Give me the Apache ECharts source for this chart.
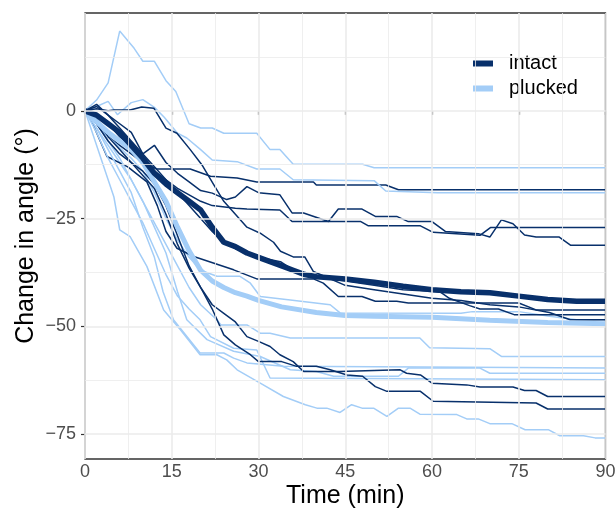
<!DOCTYPE html>
<html style="width:100%;height:100%">
<head>
    <meta charset="UTF-8">
    <title>Change in angle</title>
    <script type="text/javascript" src="https://cdn.jsdelivr.net/npm/echarts@6/dist/echarts.min.js"></script>
</head>
<body style="width:100%;height:100%;margin:0;overflow:hidden;background:#fff">
    <div id="chart" style="width:615px;height:513px"></div>

    <script type="text/javascript">
        var myChart = echarts.init(document.getElementById('chart'));

        // grid / tick values
        var xTicks = [0, 15, 30, 45, 60, 75, 90];
        var xMinor = [7.5, 22.5, 37.5, 52.5, 67.5, 82.5];
        var yTicks = [-75, -50, -25, 0];
        var yMinor = [-62.5, -37.5, -12.5, 12.5];

        // group means [time (min), change in angle]
        var intactMean = [[0,0],[2,-1],[4,-3],[6,-5],[8,-8],[10,-11],[12,-14.5],[14,-17],[16,-19],[18,-21],[20,-23],[22,-27],[24,-30.5],[26,-31.5],[28,-33],[30,-34],[32,-35],[34,-36],[36,-37],[38,-38],[40,-38.5],[45,-39],[50,-39.8],[55,-40.7],[60,-41.5],[65,-42],[70,-42.2],[75,-43],[80,-43.8],[85,-44.2],[90,-44.2]];
        var pluckedMean = [[0,0],[2,-2.5],[4,-5],[6,-7],[8,-9],[10,-12],[12,-16.5],[14,-21],[16,-27],[18,-32.5],[20,-37],[22,-39.5],[24,-41],[26,-42.2],[28,-43],[30,-44],[34,-45.5],[40,-46.8],[45,-47.5],[50,-47.7],[60,-47.9],[70,-48.6],[80,-49.1],[90,-49.4]];

        // individual intact animals
        var intact1 = [[0,0],[2,-3],[4,-6],[6,-8],[8,-10],[10,-12],[12.4,-13.5],[18.2,-13.5],[21.7,-15.2],[26.3,-15.6],[29.7,-16.5],[39.5,-16.5],[40,-17.2],[52,-17.2],[54.2,-18.3],[90,-18.3]];
        var intact2 = [[0,0],[2,-1],[4,-3],[6,-6],[8,-8.5],[10,-11],[12,-14],[14,-16],[16,-18],[18,-19.5],[20,-21],[22,-22],[26,-22.6],[28,-22.8],[33.7,-23],[35.8,-25.7],[47.7,-25.7],[49,-26.7],[58,-26.7],[60.2,-28.2],[68.3,-28.9],[70.1,-27.1],[90,-27.1]];
        var intact3 = [[0,0],[2,1],[4,-1],[6,-3],[8,-5],[10,-10],[12,-8],[14,-12],[16,-14.5],[18,-16.5],[20,-18.5],[22,-19.1],[24.5,-20.6],[26,-20],[28,-17.6],[30,-19],[33.7,-19.5],[35.8,-23.7],[37.8,-23.7],[42.1,-25.7],[43.8,-22.8],[47.9,-22.8],[50.2,-24.5],[53.9,-24.5],[55.9,-25.7],[60,-25.7],[62.3,-28],[68,-28.5],[70,-29.3],[72,-25.3],[74,-26.2],[76,-28.8],[78,-29.3],[82,-29.3],[84,-31.2],[90,-31.2]];
        var intact4 = [[0,0],[1,-2],[3.8,-10.6],[7.4,-13],[10.7,-16.5],[12.5,-22],[14,-28],[15.9,-31.9],[18.8,-33.8],[25.7,-36.9],[29.7,-39],[39.5,-39],[41.2,-40],[43.8,-43.1],[47.9,-43.1],[50.2,-44.2],[53.9,-44.2],[55.9,-44.6],[75,-44.6],[78,-46.2],[90,-46.2]];
        var intact5 = [[0,0],[2,1.5],[4,-1],[6,-4],[8,-7],[10,-10],[12,-13],[14,-16],[16,-19],[18,-22],[20,-25],[22,-28],[24,-30.5],[26,-32],[28,-33],[30,-34],[33.8,-35],[36.6,-37.5],[40,-38.5],[45,-39.5],[50,-40.5],[55,-41.5],[61.4,-42],[63,-43.5],[66.5,-45.2],[68.3,-46],[71.5,-46],[74.2,-47.3],[90,-47.3]];
        var intact6 = [[0,0],[2,0.5],[4,0],[5,0.2],[7.8,0.2],[9.8,0.9],[11.9,0.6],[14,-4],[15.9,-5.2],[18.2,-9],[20.2,-12.5],[22.2,-17],[24,-21],[26,-24],[28,-27],[30.3,-28.4],[32.6,-30.5],[33.8,-32.6],[36,-33.9],[38,-33.9],[39.5,-37.3],[45,-40.5],[50,-41.5],[55,-42.5],[60,-43.5],[65,-44],[70,-45],[75,-45.5],[80.3,-46.8],[83.9,-48.5],[90,-48.5]];
        var intact7 = [[0,0],[2,-2],[4,-6],[6,-9],[8,-12],[10,-15],[12,-18],[14,-24],[16,-31],[18,-36.5],[20,-41],[22,-45],[24,-47],[26,-49],[28,-52.4],[30,-53.5],[32,-54.7],[33.7,-56.6],[36,-58.2],[37.8,-60.5],[44,-60.5],[54.5,-60.1],[55.6,-60.9],[58,-61.3],[60,-63.2],[66,-63.6],[68.3,-64.1],[74,-64.1],[76,-64.9],[78,-64.9],[80,-66.3],[90,-66.3]];
        var intact8 = [[0,0],[2,-3],[4,-7],[6,-10],[8,-12],[10,-14],[12,-17],[14,-22],[16,-29],[18,-36],[20,-41],[22,-46],[24,-52],[26,-54.3],[28.6,-56.6],[30,-58.2],[34,-58.2],[36.6,-59.3],[40,-59.3],[42.4,-60.1],[45.3,-61.3],[48,-61.6],[50.2,-64],[52.2,-65.1],[58,-65.1],[60.2,-67.4],[78,-67.8],[80,-69.2],[90,-69.2]];

        // individual plucked animals
        var plucked1 = [[0,0],[2,2.5],[4,6.5],[6,18.5],[8.5,14.5],[10,11.5],[12,11.5],[14,7],[15.7,4.5],[18,-3],[20,-4],[22,-4],[24,-5.2],[29.7,-5.2],[32,-9],[33.7,-9],[36,-12.4],[48,-12.4],[50,-13.2],[90,-13.2]];
        var plucked2 = [[0,0],[2,1],[4,2.2],[5.6,-0.9],[8,1.9],[10,2.6],[12,0.8],[13.7,-1.5],[16,-5.2],[17.6,-6.3],[20,-9],[22,-11.4],[26.3,-11.8],[29.7,-13.5],[33.7,-13.5],[36,-16],[50,-16.2],[52,-18.6],[61,-19],[90,-19]];
        var plucked3 = [[0,0],[2,-3],[4,-6],[6,-8.5],[8,-11],[10,-14],[12,-19],[14,-25],[16,-30],[18,-34],[20,-37],[22.8,-38.4],[26.8,-38.4],[28.6,-40],[30.3,-43.1],[35.5,-43.9],[42.4,-45],[44.1,-46.9],[65,-47],[67,-46.6],[75,-46.6],[80,-47.6],[85,-48.5],[90,-48.5]];
        var plucked4 = [[0,0],[2,-4],[4,-8],[6,-12],[8,-16],[10,-21],[12,-26],[14,-31],[16,-36],[18,-41],[20,-45],[22.8,-48.5],[23.5,-49.7],[28,-49.7],[30.3,-51.6],[32,-51.6],[35.5,-52.7],[57.9,-52.7],[59.6,-55],[70,-55.2],[72,-57],[90,-57]];
        var plucked5 = [[0,0],[2,-4],[4,-9],[6,-14],[8,-19],[10,-27],[12,-34],[13.5,-42],[15.3,-48.5],[19.9,-56.2],[24,-56.2],[25.7,-57.4],[28,-58.5],[34.3,-59.3],[90,-59.7]];
        var plucked6 = [[0,0],[2,-3],[4,-7],[6,-11],[8,-16],[10,-21],[12,-27],[14,-33],[16,-42],[17.6,-48.5],[21.1,-53.1],[25.7,-55.8],[30.3,-57],[35.5,-60.1],[40,-60.5],[43,-61.6],[54.2,-61.6],[55.9,-59.7],[68.3,-59.7],[70,-60.9],[90,-60.9]];
        var plucked7 = [[0,0],[2,-5],[4,-11],[6,-16],[8,-21],[10,-26],[12,-32],[14,-38],[16,-43],[18,-46],[19.9,-48.5],[21.7,-52.4],[25.7,-55.1],[29.7,-55.5],[32,-62],[90,-62.4]];
        var plucked8 = [[0,0],[1,-4],[3,-12],[5,-20],[6,-27.6],[7.8,-29.2],[10.7,-36.1],[13.6,-46.2],[16.5,-50.8],[19.9,-56.6],[22.8,-56.6],[24.5,-57.8],[26.3,-60.1],[30.3,-63.2],[34.3,-66.3],[38.1,-68.2],[40.1,-69],[41.8,-69],[44.1,-70],[46.1,-68.2],[47.9,-69],[49.9,-69],[52.2,-70.9],[54.2,-69],[56.2,-69],[57.9,-70.4],[64.3,-70.5],[66,-71.5],[68,-71.5],[70,-72.6],[73.8,-72.6],[76.1,-74],[80.1,-74],[82.1,-75.4],[86.2,-75.4],[88.2,-75.9],[90,-75.9]];

        var intactLines = [intact1, intact2, intact3, intact4, intact5, intact6, intact7, intact8];
        var pluckedLines = [plucked1, plucked2, plucked3, plucked4, plucked5, plucked6, plucked7, plucked8];

        var darkBlue = '#08306b';
        var lightBlue = '#a3cdf7';
        var font = 'Liberation Sans, Arial, Helvetica, sans-serif';

        function gridLine(axis, v, w) {
            var d = { lineStyle: { color: '#ebebeb', width: w, type: 'solid' } };
            d[axis] = v;
            return d;
        }

        var series = [{
            type: 'line',
            data: [],
            z: 1,
            silent: true,
            markLine: {
                silent: true,
                symbol: 'none',
                label: { show: false },
                animation: false,
                data: [].concat(
                    xMinor.map(function (v) { return gridLine('xAxis', v, 0.8); }),
                    yMinor.map(function (v) { return gridLine('yAxis', v, 0.8); }),
                    xTicks.map(function (v) { return gridLine('xAxis', v, 1.6); }),
                    yTicks.map(function (v) { return gridLine('yAxis', v, 1.6); })
                )
            }
        }];

        // thin lines, interleaved so neither group sits entirely on top
        for (var i = 0; i < 8; i++) {
            series.push({
                type: 'line', name: 'plucked ' + (i + 1), data: pluckedLines[i],
                symbol: 'none', z: 2, silent: true,
                lineStyle: { color: lightBlue, width: 1.5 }
            });
            series.push({
                type: 'line', name: 'intact ' + (i + 1), data: intactLines[i],
                symbol: 'none', z: 2, silent: true,
                lineStyle: { color: darkBlue, width: 1.5 }
            });
        }
        series.push({
            type: 'line', name: 'plucked', data: pluckedMean,
            symbol: 'none', z: 3, itemStyle: { color: lightBlue },
            lineStyle: { color: lightBlue, width: 5 }
        });
        series.push({
            type: 'line', name: 'intact', data: intactMean,
            symbol: 'none', z: 3, itemStyle: { color: darkBlue },
            lineStyle: { color: darkBlue, width: 5.5 }
        });

        var option = {
            animation: false,
            backgroundColor: '#ffffff',
            textStyle: { fontFamily: font },
            grid: {
                left: 85, right: 9.5, top: 13, bottom: 54,
                outerBoundsMode: 'none',
                containLabel: false,
                show: true, borderColor: '#333333', borderWidth: 1.3,
                backgroundColor: '#ffffff'
            },
            legend: {
                data: ['intact', 'plucked'],
                orient: 'vertical',
                left: 463, top: 46,
                padding: [5, 9, 5, 10],
                itemGap: 0,
                itemWidth: 20, itemHeight: 6,
                icon: 'path://M0 0H20V6H0Z',
                itemStyle: { borderWidth: 0 },
                lineStyle: { width: 0, opacity: 0 },
                backgroundColor: '#ffffff',
                textStyle: { fontSize: 20, color: '#000', fontFamily: font, lineHeight: 25, padding: [0, 0, 0, 11] }
            },
            xAxis: {
                type: 'value',
                min: 0, max: 90, interval: 15,
                name: 'Time (min)',
                nameLocation: 'middle',
                nameGap: 25,
                nameMoveOverlap: false,
                nameTextStyle: { fontSize: 25, color: '#000', fontFamily: font },
                axisLine: { show: false },
                axisTick: { show: true, length: 4, lineStyle: { color: '#333', width: 1.2 } },
                axisLabel: { fontSize: 18, color: '#4d4d4d', margin: 4, fontFamily: font },
                splitLine: { show: false }
            },
            yAxis: {
                type: 'value',
                min: -80.8, max: 22.7,
                name: 'Change in angle (°)',
                nameLocation: 'middle',
                nameGap: 46,
                nameMoveOverlap: false,
                nameTextStyle: { fontSize: 25, color: '#000', fontFamily: font },
                axisLine: { show: false },
                axisTick: { show: true, length: 4, customValues: yTicks, lineStyle: { color: '#333', width: 1.2 } },
                axisLabel: {
                    fontSize: 18, color: '#4d4d4d', margin: 9, fontFamily: font,
                    customValues: yTicks,
                    formatter: function (v) { return String(v).replace('-', '\u2212'); }
                },
                splitLine: { show: false }
            },
            series: series
        };

        myChart.setOption(option);
    </script>
</body>
</html>
